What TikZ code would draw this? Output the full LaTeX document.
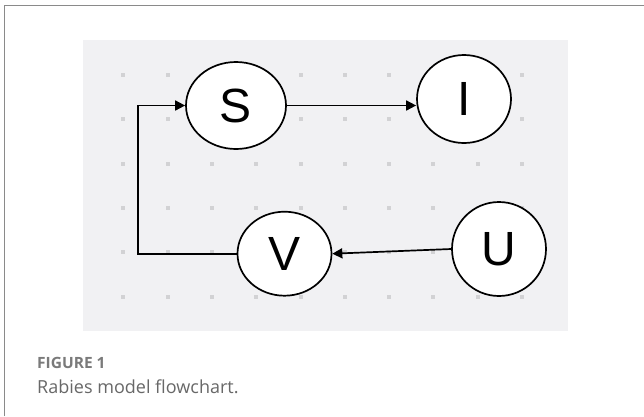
\documentclass[tikz,border=0pt]{standalone}
\usepackage{fontspec}
\setmainfont{Liberation Sans}
\newfontfamily\capfont{Open Sans}
\usetikzlibrary{arrows.meta,shapes.geometric}
\definecolor{panel}{HTML}{F1F1F3}
\definecolor{dotc}{HTML}{D2D2D4}
\definecolor{framec}{HTML}{8A8A8A}
\definecolor{capgray}{HTML}{7A7A7A}
\definecolor{textgray}{HTML}{686868}
\begin{document}
\begin{tikzpicture}[x=1pt,y=-1pt,
  state/.style={ellipse, draw=black, line width=1.7pt, fill=white, inner sep=0pt,
    font=\fontsize{48}{48}\selectfont},
  flow/.style={line width=1.7pt, -{Triangle[length=10pt,width=10pt]}}]
\fill[white] (0,0) rectangle (644,416);
\useasboundingbox (0,0) rectangle (644,416);
\draw[framec, line width=1.8pt] (4.5,416) -- (4.5,5.5) -- (644,5.5);
\fill[panel] (83,40) rectangle (568,331);
\foreach \i in {0,...,9}{
  \foreach \j in {0,...,5}{
    \fill[dotc] ({123.3+44.3*\i-2},{75+44.3*\j-2}) rectangle ++(4,4);
  }
}
\node[state, minimum width=100pt, minimum height=87pt] (S) at (236,105.5) {S};
\node[state, minimum width=94pt, minimum height=88pt] (I) at (464,99) {I};
\node[state, minimum width=94pt, minimum height=84pt] (V) at (284.5,253.7) {V};
\node[state, minimum width=94pt, minimum height=94pt] (U) at (499,249) {U};
\coordinate (bend) at (138.3,253.7);
\draw[flow] (S.east |- 0,105.5) -- (I.west |- 0,105.5);
\draw[flow] (U.west) -- (V.east);
\draw[flow] (V.west) -- (bend) |- (S.west);
\node[anchor=base west, inner sep=0pt, text=capgray, font=\capfont\bfseries\fontsize{15.5}{15.5}\selectfont] (fig) at (37,368) {FIGURE 1};
\node[anchor=base west, inner sep=0pt, text=textgray, font=\capfont\fontsize{18}{18}\selectfont] (cap) at (37,393) {Rabies model flowchart.};
\end{tikzpicture}
\end{document}
